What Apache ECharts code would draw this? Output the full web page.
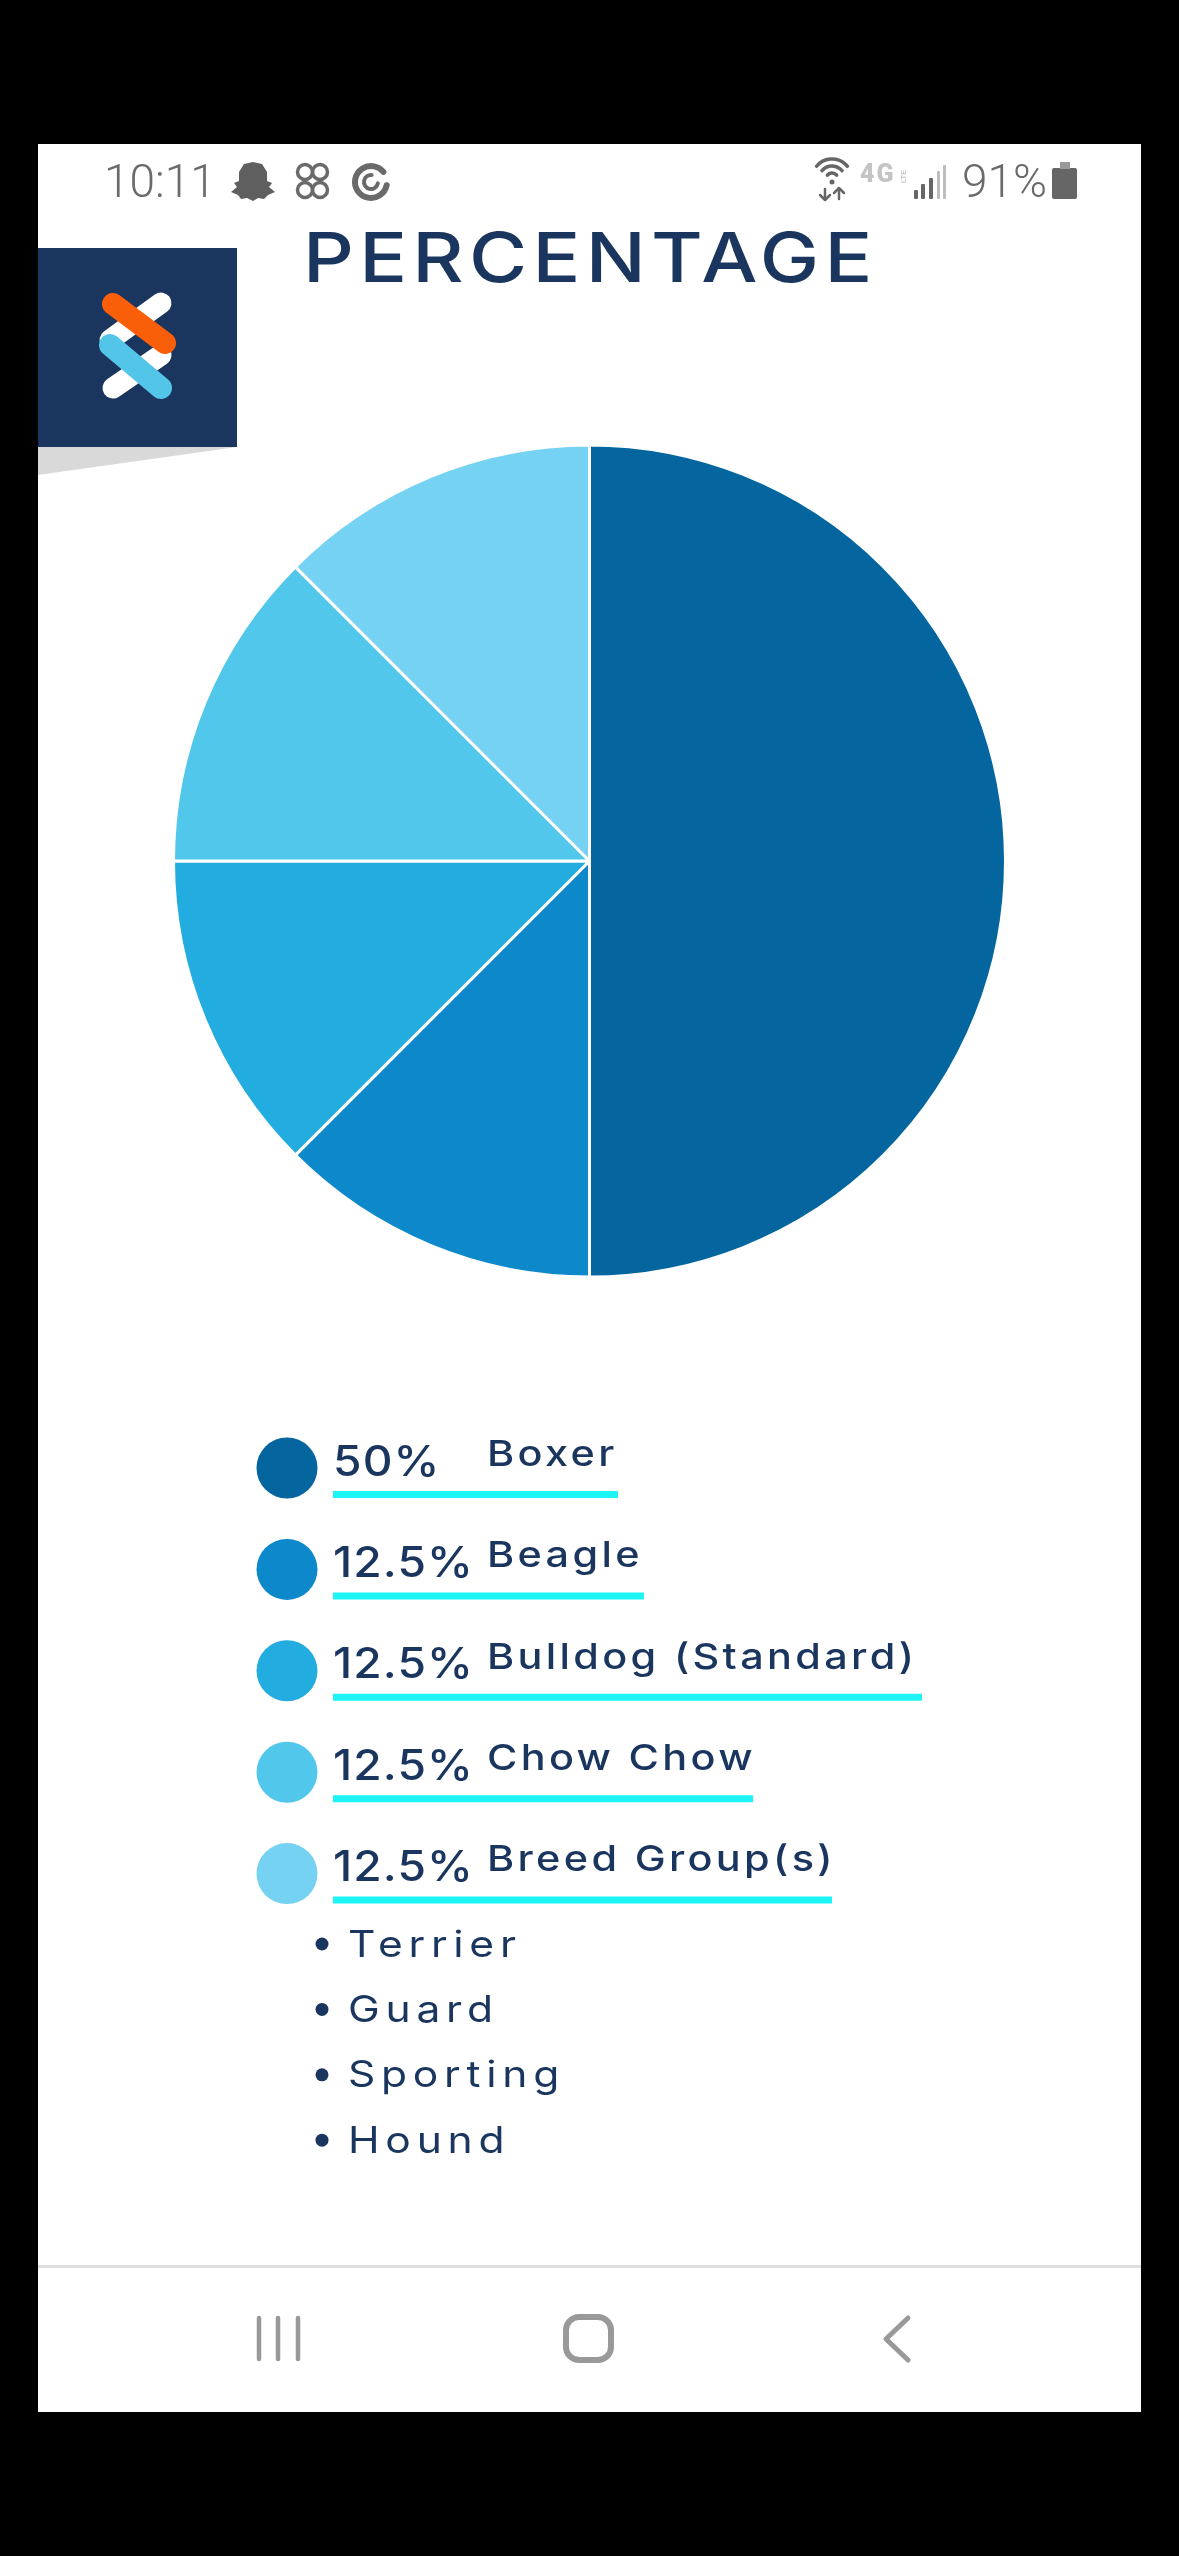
<!DOCTYPE html>
<html>
<head>
<meta charset="utf-8">
<style>html,body{margin:0;padding:0;background:#000}#c{width:1179px;height:2556px}</style>
<script src="https://cdn.jsdelivr.net/npm/echarts@6/dist/echarts.min.js"></script>
</head>
<body>
<div id="c"></div>
<script>
const categories = ['Boxer', 'Beagle', 'Bulldog (Standard)', 'Chow Chow', 'Breed Group(s)'];
const values = [50, 12.5, 12.5, 12.5, 12.5];
const breedGroups = ['Terrier', 'Guard', 'Sporting', 'Hound'];
const titleText = 'PERCENTAGE';
const sliceColors = ['#04659F', '#0C88CB', '#23ACE0', '#52C7EC', '#75D2F2'];
const underlineEnds = [618, 644, 922, 753, 832];

// zrender has no letter-spacing style, so apply the canvas one per string at draw time
const spacing = new Map();
const fillTextOrig = CanvasRenderingContext2D.prototype.fillText;
CanvasRenderingContext2D.prototype.fillText = function (t, x, y, w) {
  this.letterSpacing = (spacing.get(t) || 0) + 'px';
  if (w === undefined) fillTextOrig.call(this, t, x, y); else fillTextOrig.call(this, t, x, y, w);
  this.letterSpacing = '0px';
};

const NAVY = '#1A365F', CYAN = '#1CF4F6', GREY = '#6A6A6A', FONT = 'Inter';
const els = [];
const rect = (x, y, width, height, fill, r) => els.push({type:'rect', shape:{x, y, width, height, r:r||0}, style:{fill}});
const text = (x, y, t, font, fontSize, fontWeight, fill, letterSpacing, extra) => {
  spacing.set(t, letterSpacing || 0);
  els.push(Object.assign({type:'text', x, y, style:{text:t, fontFamily:font, fontSize, fontWeight, fill, align:'left', verticalAlign:'bottom'}}, extra || {}));
};
const stroke = (points, color, lineWidth) => els.push({type:'polyline', shape:{points}, style:{stroke:color, lineWidth, fill:null, lineCap:'round', lineJoin:'round'}});
const dot = (cx, cy, r, fill) => els.push({type:'circle', shape:{cx, cy, r}, style:{fill}});
const ringArc = (cx, cy, r, a0, a1, color, lineWidth) => els.push({type:'arc', shape:{cx, cy, r, startAngle:a0, endAngle:a1}, style:{stroke:color, lineWidth, fill:null, lineCap:'round'}});
const poly = (points, fill) => els.push({type:'polygon', shape:{points}, style:{fill}});

// status bar
text(104, 208, '10:11', 'Roboto', 46, 300, GREY, 0);
poly([[253,162],[262,164],[267,172],[267,181],[272,183],[269,187],[275,192],[268,195],[264,199],[258,198],[253,201],[247,198],[241,199],[238,195],[231,192],[237,187],[234,183],[239,181],[239,172],[244,164]], '#5F5F5F');
[[305,172],[320,172],[305,190],[320,190]].forEach(p => els.push({type:'circle', shape:{cx:p[0], cy:p[1], r:7.5}, style:{stroke:GREY, lineWidth:3.5, fill:null}}));
ringArc(371, 182, 16, 0.2, 5.6, GREY, 6);
ringArc(371, 182, 7, 0.2, 4.8, GREY, 4);
[20, 13, 6].forEach(r => ringArc(832, 179, r, -2.45, -0.69, '#666', 3.5));
dot(832, 182, 2.5, '#666');
stroke([[825,189],[825,199]], '#666', 2.5); stroke([[820,195],[825,200],[830,195]], '#666', 2.5);
stroke([[839,199],[839,189]], '#666', 2.5); stroke([[834,193],[839,188],[844,193]], '#666', 2.5);
text(860, 188, '4G', 'Roboto', 25, 900, '#C4C4C4', 2);
text(908, 183, 'LTE', 'Roboto', 8, 500, '#C4C4C4', 0, {rotation:Math.PI / 2});
[[914,190,4,'#666'],[921,184,4,'#666'],[929,178,4,'#666'],[937,171,3,'#BDBDBD'],[943,165,3,'#BDBDBD']].forEach(b => rect(b[0], b[1], b[2], 199-b[1], b[3], 1));
text(962, 208, '91%', 'Roboto', 46, 300, GREY, 0);
rect(1052, 168, 25, 31, '#666', 2);
rect(1060, 162, 10, 7, '#999');

// logo
poly([[38,447],[237,447],[38,475]], '#D9D9D9');
rect(38, 248, 199, 199, '#1A365F');
stroke([[161,303],[110,340]], '#FFF', 21);
stroke([[161,355],[113,388]], '#FFF', 21);
stroke([[113,304],[165,343]], '#F95F08', 22);
stroke([[110,345],[161,388]], '#52C5E9', 22);

// title
text(303, 296, titleText, FONT, 69, 500, NAVY, 4.6, {scaleX:1.15});

// legend
categories.forEach((name, i) => {
  const y = i * 101.4;
  dot(287, 1468 + y, 30.5, sliceColors[i]);
  text(333, 1484 + y, values[i] + '%', FONT, 42, 500, NAVY, 1, {scaleX:1.1});
  text(487, 1473 + y, name, FONT, 36, 500, NAVY, 2.9, {scaleX:1.15});
  rect(333, 1491 + y, underlineEnds[i] - 333, 7, CYAN);
});
breedGroups.forEach((name, i) => {
  const y = i * 65.4;
  dot(322, 1944 + y, 6.5, NAVY);
  text(348, 1964 + y, name, FONT, 37, 400, NAVY, 5, {scaleX:1.15});
});

// nav bar
rect(38, 2265, 1103, 3, '#DEDEDE');
[259, 278, 298].forEach(x => stroke([[x,2318],[x,2359]], '#999', 4.5));
els.push({type:'rect', shape:{x:566, y:2317, width:45, height:43, r:13}, style:{stroke:'#999', lineWidth:6, fill:null}});
stroke([[908,2318],[886,2339],[908,2360]], '#999', 5);

const chart = echarts.init(document.getElementById('c'), null, {renderer:'canvas'});
chart.setOption({
  backgroundColor:'#000',
  animation:false,
  graphic:[
    {type:'rect', z:-10, silent:true, shape:{x:38, y:144, width:1103, height:2268}, style:{fill:'#FFF'}},
    {type:'group', z:10, silent:true, children:els}
  ],
  series:[{
    type:'pie', silent:true, z:5,
    center:[589.5, 861], radius:[0, 416],
    startAngle:90, clockwise:true,
    label:{show:false}, labelLine:{show:false},
    itemStyle:{borderColor:'#FFF', borderWidth:3},
    data:categories.map((name, i) => ({name, value:values[i], itemStyle:{color:sliceColors[i]}}))
  }]
});
</script>
</body>
</html>
